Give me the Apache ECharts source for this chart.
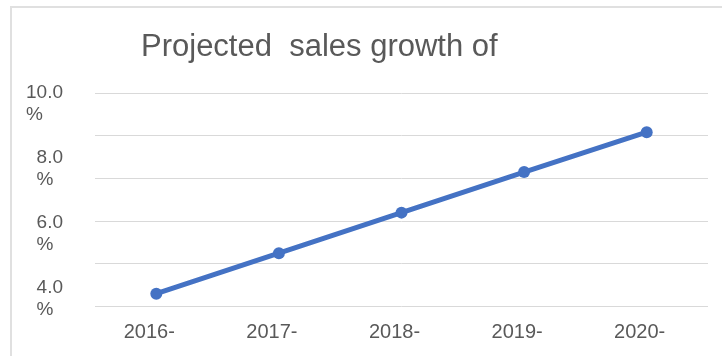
<!DOCTYPE html>
<html>
<head>
<meta charset="utf-8">
<script src="https://cdn.jsdelivr.net/npm/echarts@6/dist/echarts.min.js"></script>
<style>
html,body{margin:0;padding:0;background:#fff;}
#chart{width:722px;height:356px;}
</style>
</head>
<body>
<div id="chart"></div>
<script>
// Data
const titleText = 'Projected  sales growth of';
const categories = ['2016-', '2017-', '2018-', '2019-', '2020-'];
const growthValues = [4.15, 5.4, 6.65, 7.9, 9.13];
const yTickLabels = [4, 6, 8, 10];

const textColor = '#595959';
const chart = echarts.init(document.getElementById('chart'), null, {renderer: 'canvas'});

const option = {
  backgroundColor: '#ffffff',
  animation: false,
  graphic: [{
    type: 'rect',
    shape: {x: 11, y: 7, width: 760, height: 400},
    style: {fill: 'none', stroke: '#e0e0e0', lineWidth: 2},
    silent: true
  }],
  title: {
    text: titleText,
    left: 136,
    top: 27,
    textStyle: {
      fontFamily: 'Liberation Sans, Arial, sans-serif',
      fontSize: 31,
      fontWeight: 'normal',
      color: textColor
    }
  },
  grid: {left: 95, right: 14, top: 93, bottom: 50, containLabel: false},
  xAxis: {
    type: 'category',
    data: categories,
    boundaryGap: true,
    axisLine: {show: false},
    axisTick: {show: false},
    axisLabel: {
      color: textColor,
      fontFamily: 'Liberation Sans, Arial, sans-serif',
      fontSize: 20,
      margin: 16,
      padding: [0, 14, 0, 0]
    }
  },
  yAxis: [{
    type: 'value',
    min: 3.77,
    max: 10.34,
    axisLine: {show: false},
    axisTick: {show: false},
    splitLine: {show: false},
    axisLabel: {
      customValues: yTickLabels,
      margin: 32,
      color: textColor,
      fontFamily: 'Liberation Sans, Arial, sans-serif',
      fontSize: 19,
      lineHeight: 22,
      formatter: function (v) {
        const s = v.toFixed(1);
        return '{n|' + s + '}\n{' + (s.length > 3 ? 'pw' : 'p') + '|%}';
      },
      rich: {
        n: {fontSize: 19, color: textColor, fontFamily: 'Liberation Sans, Arial, sans-serif', lineHeight: 22},
        p: {fontSize: 19, color: textColor, fontFamily: 'Liberation Sans, Arial, sans-serif', lineHeight: 22, width: 26, align: 'left'},
        pw: {fontSize: 19, color: textColor, fontFamily: 'Liberation Sans, Arial, sans-serif', lineHeight: 22, width: 37, align: 'left'}
      }
    }
  }, {
    type: 'value',
    min: 0,
    max: 5,
    interval: 1,
    position: 'left',
    axisLine: {show: false},
    axisTick: {show: false},
    axisLabel: {show: false},
    splitLine: {show: true, lineStyle: {color: '#d9d9d9', width: 1}}
  }],
  series: [{
    type: 'line',
    yAxisIndex: 0,
    data: growthValues,
    symbol: 'circle',
    symbolSize: 12,
    lineStyle: {color: '#4472c4', width: 5},
    itemStyle: {color: '#4472c4'},
    label: {show: false}
  }]
};
chart.setOption(option);
</script>
</body>
</html>
